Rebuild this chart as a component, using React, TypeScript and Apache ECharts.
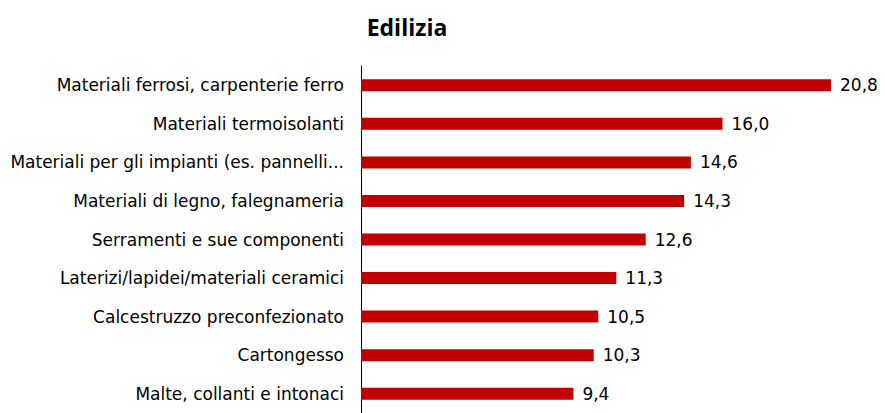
import React, { useEffect, useRef } from "react";
import * as echarts from "echarts";

const categories = [
  "Materiali ferrosi, carpenterie ferro",
  "Materiali termoisolanti",
  "Materiali per gli impianti (es. pannelli...",
  "Materiali di legno, falegnameria",
  "Serramenti e sue componenti",
  "Laterizi/lapidei/materiali ceramici",
  "Calcestruzzo preconfezionato",
  "Cartongesso",
  "Malte, collanti e intonaci",
];
const values = [20.8, 16.0, 14.6, 14.3, 12.6, 11.3, 10.5, 10.3, 9.4];
const title = "Edilizia";

export default function App() {
  const ref = useRef<HTMLDivElement>(null);
  useEffect(() => {
    const chart = echarts.init(ref.current!, null, { renderer: "svg" });
    chart.setOption({
      animation: false,
      title: {
        text: title,
        left: 402,
        top: 10,
        textAlign: "center",
        textStyle: { fontFamily: "Open Sans", fontWeight: "bold", fontSize: 23, color: "#000" },
      },
      grid: { left: 361, top: 66, width: 470, height: 352 },
      xAxis: {
        type: "value",
        min: 0,
        max: 20.8,
        show: false,
      },
      yAxis: {
        type: "category",
        inverse: true,
        data: categories,
        axisLine: { show: true, lineStyle: { color: "#000", width: 1 } },
        axisTick: { show: false },
        axisLabel: {
          margin: 17,
          fontFamily: "DejaVu Sans",
          fontSize: 17,
          color: "#000",
        },
      },
      series: [
        {
          type: "bar",
          data: values,
          barWidth: 12,
          itemStyle: { color: "#C00000" },
          label: {
            show: true,
            position: "right",
            distance: 9,
            fontFamily: "DejaVu Sans",
            fontSize: 17,
            color: "#000",
            formatter: (p: any) => p.value.toFixed(1).replace(".", ","),
          },
        },
      ],
    });
    return () => chart.dispose();
  }, []);
  return (
    <div
      ref={ref}
      style={{ position: "absolute", left: 0, top: 0, width: 885, height: 413, background: "#fff" }}
    />
  );
}
